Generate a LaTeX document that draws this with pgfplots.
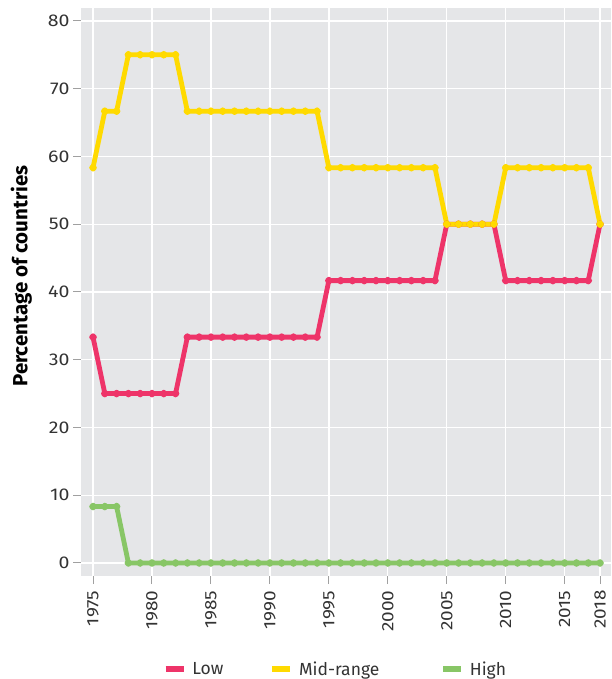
\documentclass[border=0pt]{standalone}
\usepackage{pgfplots}
\pgfplotsset{compat=1.18}
\usepackage{fontspec}
\setmainfont{Fira Sans}
\newfontfamily\tickfont{Fira Sans}[FakeStretch=1.15]
\definecolor{cLow}{HTML}{EE3469}
\definecolor{cMid}{HTML}{FFDA00}
\definecolor{cHigh}{HTML}{88C666}
\definecolor{panel}{HTML}{E5E6E8}
\definecolor{tickc}{HTML}{A0A0A0}
\definecolor{txt}{HTML}{333333}
\begin{document}
\begin{tikzpicture}
\begin{axis}[
  name=ax,
  scale only axis,
  width=530pt, height=568pt,
  xmin=1973.98, xmax=2018.93,
  ymin=-1.92, ymax=81.9,
  axis line style={draw=none},
  axis background/.style={fill=panel},
  grid=major,
  grid style={white, line width=1.3pt},
  xtick={1975,1980,1985,1990,1995,2000,2005,2010,2015,2018},
  ytick={0,10,20,30,40,50,60,70,80},
  tick align=outside,
  tick pos=left,
  major tick length=8pt,
  tick style={tickc, line width=1pt},
  xticklabel shift=3pt,
  x tick label style={rotate=90, anchor=east, font=\tickfont\fontsize{16.5}{18}\selectfont, text=txt, /pgf/number format/1000 sep={}},
  y tick label style={font=\tickfont\fontsize{17}{18}\selectfont, text=txt},
  /pgf/number format/assume math mode=true,
  xticklabel style={/pgf/number format/1000 sep={}},
  ylabel={\bfseries Percentage of countries},
  ylabel style={font=\fontsize{20.5}{22}\selectfont, text=black, at={(ticklabel cs:0.528)}},
  ylabel shift=9pt,
  legend columns=3,
  legend style={at={(0.5,0)}, anchor=center, yshift=-93pt, xshift=-10.5pt, draw=none, fill=none,
    font=\fontsize{17.5}{20}\selectfont, text=txt,
    /tikz/every even column/.append style={column sep=40pt},
    /tikz/every odd column/.append style={column sep=4pt}},
  legend image code/.code={\draw[line width=5.5pt] (0pt,0pt) -- (18pt,0pt);},
  every axis plot/.append style={line width=4.8pt, line join=round, mark=*, mark size=1.4pt},
]
\addplot[cLow, mark options={fill=cLow, draw=cLow}] coordinates {
(1975,33.33)(1976,25)(1977,25)(1978,25)(1979,25)(1980,25)(1981,25)(1982,25)
(1983,33.33)(1984,33.33)(1985,33.33)(1986,33.33)(1987,33.33)(1988,33.33)(1989,33.33)(1990,33.33)(1991,33.33)(1992,33.33)(1993,33.33)(1994,33.33)
(1995,41.67)(1996,41.67)(1997,41.67)(1998,41.67)(1999,41.67)(2000,41.67)(2001,41.67)(2002,41.67)(2003,41.67)(2004,41.67)
(2005,50)(2006,50)(2007,50)(2008,50)(2009,50)
(2010,41.67)(2011,41.67)(2012,41.67)(2013,41.67)(2014,41.67)(2015,41.67)(2016,41.67)(2017,41.67)
(2018,50)};
\addlegendentry{Low\rule{4pt}{0pt}}
\addplot[cMid, mark options={fill=cMid, draw=cMid}] coordinates {
(1975,58.33)(1976,66.67)(1977,66.67)(1978,75)(1979,75)(1980,75)(1981,75)(1982,75)
(1983,66.67)(1984,66.67)(1985,66.67)(1986,66.67)(1987,66.67)(1988,66.67)(1989,66.67)(1990,66.67)(1991,66.67)(1992,66.67)(1993,66.67)(1994,66.67)
(1995,58.33)(1996,58.33)(1997,58.33)(1998,58.33)(1999,58.33)(2000,58.33)(2001,58.33)(2002,58.33)(2003,58.33)(2004,58.33)
(2005,50)(2006,50)(2007,50)(2008,50)(2009,50)
(2010,58.33)(2011,58.33)(2012,58.33)(2013,58.33)(2014,58.33)(2015,58.33)(2016,58.33)(2017,58.33)
(2018,50)};
\addlegendentry{Mid-range\rule{19pt}{0pt}}
\addplot[cHigh, mark options={fill=cHigh, draw=cHigh}] coordinates {
(1975,8.33)(1976,8.33)(1977,8.33)(1978,0)(1979,0)(1980,0)(1981,0)(1982,0)
(1983,0)(1984,0)(1985,0)(1986,0)(1987,0)(1988,0)(1989,0)(1990,0)(1991,0)(1992,0)(1993,0)(1994,0)
(1995,0)(1996,0)(1997,0)(1998,0)(1999,0)(2000,0)(2001,0)(2002,0)(2003,0)(2004,0)
(2005,0)(2006,0)(2007,0)(2008,0)(2009,0)
(2010,0)(2011,0)(2012,0)(2013,0)(2014,0)(2015,0)(2016,0)(2017,0)
(2018,0)};
\addlegendentry{High}
\end{axis}
\pgfresetboundingbox
\path ([xshift=-81pt,yshift=-103pt]ax.south west) rectangle ([yshift=8pt]ax.north east);
\end{tikzpicture}
\end{document}
